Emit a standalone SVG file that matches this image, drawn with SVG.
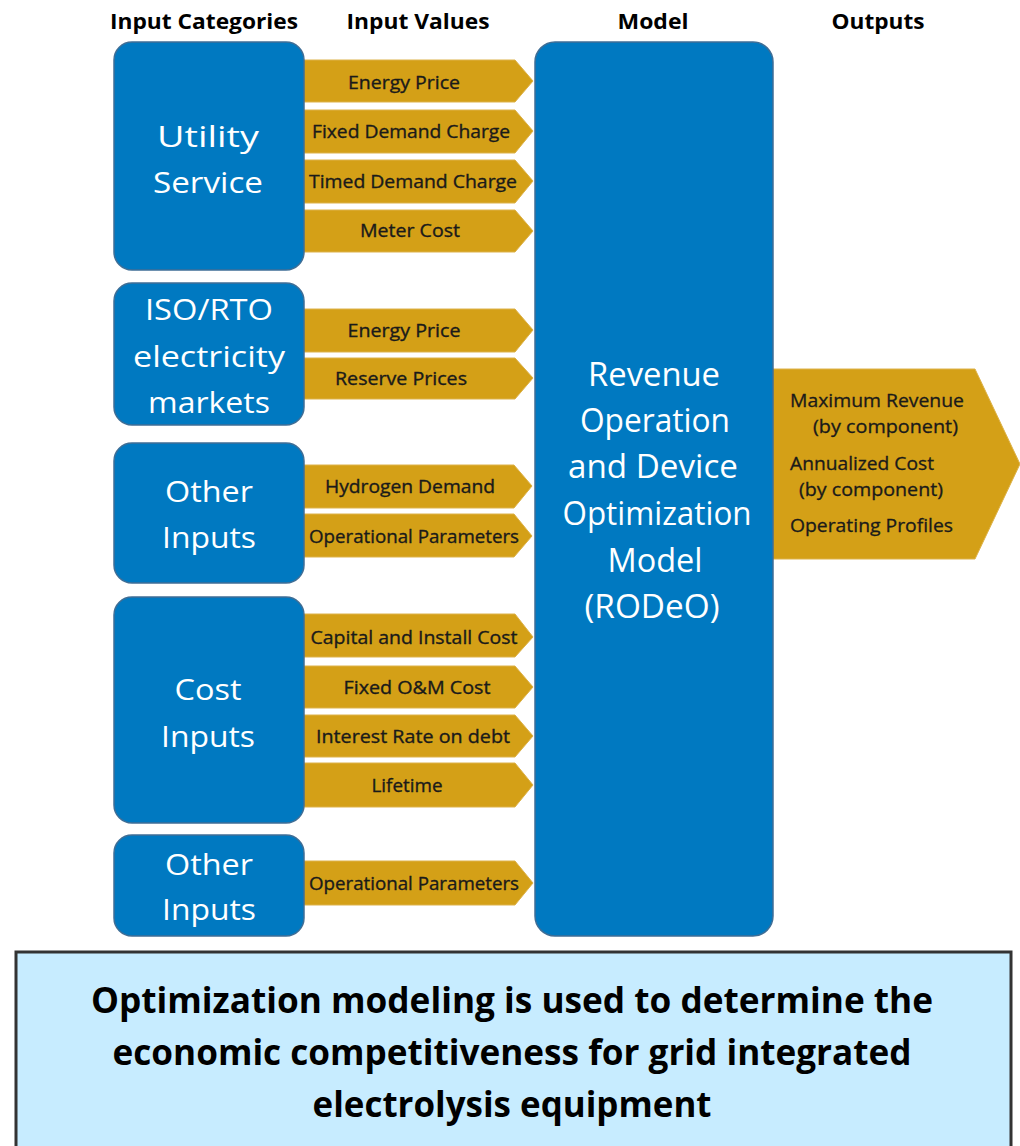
<svg xmlns="http://www.w3.org/2000/svg" width="1020" height="1146" viewBox="0 0 1020 1146">
<style>
.hdr{font-family:"Open Sans","Liberation Sans",sans-serif;font-weight:bold;font-size:21px;fill:#000;text-anchor:middle}
.box{fill:#0079C1;stroke:#3F6E96;stroke-width:1.5}
.cat{font-family:"Open Sans","Liberation Sans",sans-serif;font-size:30px;fill:#fff;text-anchor:middle}
.mdl{font-family:"Open Sans","Liberation Sans",sans-serif;font-size:32px;fill:#fff;text-anchor:middle}
.arr{fill:#D4A017;stroke:#DDB24A;stroke-width:1}
.lbl{font-family:"Open Sans","Liberation Sans",sans-serif;font-size:18px;fill:#1a1a1a;stroke:#1a1a1a;stroke-width:0.35;text-anchor:middle}
.out{font-family:"Open Sans","Liberation Sans",sans-serif;font-size:18px;fill:#1a1a1a;stroke:#1a1a1a;stroke-width:0.3}
.note{font-family:"Open Sans","Liberation Sans",sans-serif;font-weight:bold;font-size:36px;fill:#000;text-anchor:middle}
</style>
<rect width="1020" height="1146" fill="#fff"/>
<g id="headers">
<text class="hdr" x="204" y="29" textLength="188" lengthAdjust="spacingAndGlyphs">Input Categories</text>
<text class="hdr" x="418" y="29" textLength="143" lengthAdjust="spacingAndGlyphs">Input Values</text>
<text class="hdr" x="653" y="29" textLength="71" lengthAdjust="spacingAndGlyphs">Model</text>
<text class="hdr" x="878" y="29" textLength="93" lengthAdjust="spacingAndGlyphs">Outputs</text>
</g>
<g id="connectors">
<g id="a-energy1"><polygon class="arr" points="300,60 515,60 533,81 515,102 300,102"/><text class="lbl" x="404" y="89" textLength="112" lengthAdjust="spacingAndGlyphs">Energy Price</text></g>
<g id="a-fixed"><polygon class="arr" points="300,110 515,110 533,131 515,153 300,153"/><text class="lbl" x="411" y="138" textLength="198" lengthAdjust="spacingAndGlyphs">Fixed Demand Charge</text></g>
<g id="a-timed"><polygon class="arr" points="300,160 515,160 533,181 515,203 300,203"/><text class="lbl" x="413" y="188" textLength="208" lengthAdjust="spacingAndGlyphs">Timed Demand Charge</text></g>
<g id="a-meter"><polygon class="arr" points="300,210 515,210 533,231 515,252 300,252"/><text class="lbl" x="410" y="237" textLength="100" lengthAdjust="spacingAndGlyphs">Meter Cost</text></g>
<g id="a-energy2"><polygon class="arr" points="300,309 515,309 533,330 515,352 300,352"/><text class="lbl" x="404" y="337" textLength="113" lengthAdjust="spacingAndGlyphs">Energy Price</text></g>
<g id="a-reserve"><polygon class="arr" points="300,358 515,358 533,378 515,399 300,399"/><text class="lbl" x="401" y="385" textLength="132" lengthAdjust="spacingAndGlyphs">Reserve Prices</text></g>
<g id="a-hydrogen"><polygon class="arr" points="300,465 514,465 532,486 514,508 300,508"/><text class="lbl" x="410" y="493" textLength="170" lengthAdjust="spacingAndGlyphs">Hydrogen Demand</text></g>
<g id="a-oper1"><polygon class="arr" points="300,514 514,514 532,536 514,557 300,557"/><text class="lbl" x="414" y="543" textLength="210" lengthAdjust="spacingAndGlyphs">Operational Parameters</text></g>
<g id="a-capital"><polygon class="arr" points="300,614 515,614 533,637 515,657 300,657"/><text class="lbl" x="414" y="644" textLength="207" lengthAdjust="spacingAndGlyphs">Capital and Install Cost</text></g>
<g id="a-om"><polygon class="arr" points="300,666 515,666 533,687 515,708 300,708"/><text class="lbl" x="417" y="694" textLength="147" lengthAdjust="spacingAndGlyphs">Fixed O&amp;M Cost</text></g>
<g id="a-interest"><polygon class="arr" points="300,715 515,715 533,736 515,757 300,757"/><text class="lbl" x="413" y="743" textLength="194" lengthAdjust="spacingAndGlyphs">Interest Rate on debt</text></g>
<g id="a-lifetime"><polygon class="arr" points="300,763 515,763 533,785 515,807 300,807"/><text class="lbl" x="407" y="792" textLength="71" lengthAdjust="spacingAndGlyphs">Lifetime</text></g>
<g id="a-oper2"><polygon class="arr" points="300,861 515,861 533,883 515,905 300,905"/><text class="lbl" x="414" y="890" textLength="210" lengthAdjust="spacingAndGlyphs">Operational Parameters</text></g>
<g id="a-output"><polygon class="arr" points="770,369 975,369 1020,464 975,559 770,559"/>
<text class="out" x="790" y="407" textLength="174" lengthAdjust="spacingAndGlyphs">Maximum Revenue</text>
<text class="out" x="813" y="433" textLength="145" lengthAdjust="spacingAndGlyphs">(by component)</text>
<text class="out" x="790" y="470" textLength="144" lengthAdjust="spacingAndGlyphs">Annualized Cost</text>
<text class="out" x="799" y="496" textLength="144" lengthAdjust="spacingAndGlyphs">(by component)</text>
<text class="out" x="790" y="532" textLength="163" lengthAdjust="spacingAndGlyphs">Operating Profiles</text>
</g>
</g>
<g id="utility">
<rect class="box" x="114" y="42" width="190" height="228" rx="18"/>
<text class="cat" x="208" y="147" textLength="102" lengthAdjust="spacingAndGlyphs">Utility</text>
<text class="cat" x="208" y="193" textLength="110" lengthAdjust="spacingAndGlyphs">Service</text>
</g>
<g id="iso">
<rect class="box" x="114" y="283" width="190" height="142" rx="18"/>
<text class="cat" x="209" y="320" textLength="128" lengthAdjust="spacingAndGlyphs">ISO/RTO</text>
<text class="cat" x="209" y="367" textLength="152" lengthAdjust="spacingAndGlyphs">electricity</text>
<text class="cat" x="209" y="413" textLength="122" lengthAdjust="spacingAndGlyphs">markets</text>
</g>
<g id="other1">
<rect class="box" x="114" y="443" width="190" height="140" rx="18"/>
<text class="cat" x="209" y="502" textLength="88" lengthAdjust="spacingAndGlyphs">Other</text>
<text class="cat" x="209" y="548" textLength="94" lengthAdjust="spacingAndGlyphs">Inputs</text>
</g>
<g id="cost">
<rect class="box" x="114" y="597" width="190" height="226" rx="18"/>
<text class="cat" x="208" y="700" textLength="67" lengthAdjust="spacingAndGlyphs">Cost</text>
<text class="cat" x="208" y="747" textLength="94" lengthAdjust="spacingAndGlyphs">Inputs</text>
</g>
<g id="other2">
<rect class="box" x="114" y="835" width="190" height="101" rx="18"/>
<text class="cat" x="209" y="875" textLength="88" lengthAdjust="spacingAndGlyphs">Other</text>
<text class="cat" x="209" y="920" textLength="94" lengthAdjust="spacingAndGlyphs">Inputs</text>
</g>
<g id="model">
<rect class="box" x="535" y="42" width="238" height="894" rx="20"/>
<text class="mdl" x="654" y="386" textLength="132" lengthAdjust="spacingAndGlyphs">Revenue</text>
<text class="mdl" x="655" y="432" textLength="150" lengthAdjust="spacingAndGlyphs">Operation</text>
<text class="mdl" x="653" y="478" textLength="170" lengthAdjust="spacingAndGlyphs">and Device</text>
<text class="mdl" x="657" y="525" textLength="189" lengthAdjust="spacingAndGlyphs">Optimization</text>
<text class="mdl" x="655" y="572" textLength="95" lengthAdjust="spacingAndGlyphs">Model</text>
<text class="mdl" x="652" y="618" textLength="135" lengthAdjust="spacingAndGlyphs">(RODeO)</text>
</g>
<g id="note">
<rect x="16" y="952" width="995" height="210" fill="#C7ECFF" stroke="#333" stroke-width="3"/>
<text class="note" x="512" y="1013" textLength="842" lengthAdjust="spacingAndGlyphs">Optimization modeling is used to determine the</text>
<text class="note" x="512" y="1065" textLength="799" lengthAdjust="spacingAndGlyphs">economic competitiveness for grid integrated</text>
<text class="note" x="512" y="1117" textLength="399" lengthAdjust="spacingAndGlyphs">electrolysis equipment</text>
</g>
</svg>
